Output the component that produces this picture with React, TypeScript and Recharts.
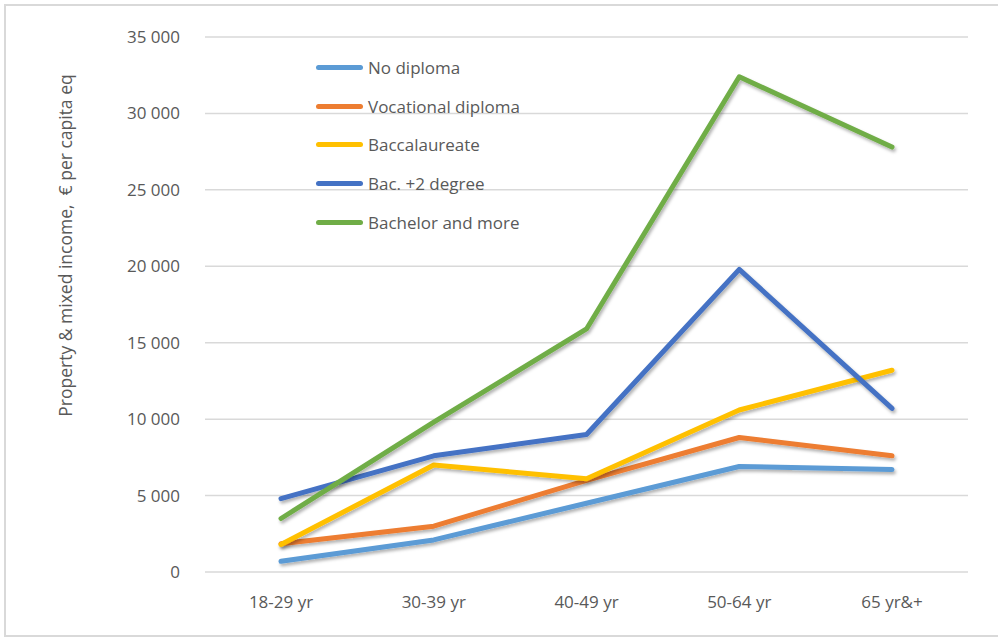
import React from 'react';
import { CartesianGrid, Line, LineChart, XAxis, YAxis } from 'recharts';

const AGES = ['18-29 yr', '30-39 yr', '40-49 yr', '50-64 yr', '65 yr&+'];
const NO_DIPLOMA = [700, 2100, 4500, 6900, 6700];
const VOCATIONAL = [1850, 3000, 6000, 8800, 7600];
const BACCALAUREATE = [1800, 7000, 6100, 10600, 13200];
const BAC_PLUS_2 = [4800, 7600, 9000, 19800, 10700];
const BACHELOR = [3500, 9800, 15900, 32400, 27800];
const Y_TICKS = [0, 5000, 10000, 15000, 20000, 25000, 30000, 35000];

const SERIES = [
  { key: 'noDiploma', name: 'No diploma', values: NO_DIPLOMA, color: '#5B9BD5' },
  { key: 'vocational', name: 'Vocational diploma', values: VOCATIONAL, color: '#ED7D31' },
  { key: 'bac', name: 'Baccalaureate', values: BACCALAUREATE, color: '#FFC000' },
  { key: 'bac2', name: 'Bac. +2 degree', values: BAC_PLUS_2, color: '#4472C4' },
  { key: 'bachelor', name: 'Bachelor and more', values: BACHELOR, color: '#70AD47' },
];

const data = AGES.map((age, i) => {
  const row: Record<string, any> = { age };
  SERIES.forEach((s) => (row[s.key] = s.values[i]));
  return row;
});

const FONT = '"Open Sans", sans-serif';
const GREY = '#595959';

const fmt = (v: number) => (v === 0 ? '0' : `${Math.floor(v / 1000)} ${String(v % 1000).padStart(3, '0')}`);

const LegendBox: React.FC = () => (
  <div style={{ position: 'absolute', left: 316, top: 48, fontFamily: FONT }}>
    {SERIES.map((s) => (
      <div key={s.key} style={{ display: 'flex', alignItems: 'center', height: 38.8 }}>
        <div style={{ width: 47, height: 5, borderRadius: 3, background: s.color, marginRight: 5 }} />
        <span style={{ fontSize: 17, color: GREY }}>{s.name}</span>
      </div>
    ))}
  </div>
);

export default function App() {
  return (
    <div style={{ position: 'absolute', left: 0, top: 0, width: 998, height: 637, overflow: 'hidden', background: '#fff' }}>
      <div
        style={{
          position: 'absolute',
          left: 4,
          top: 4,
          width: 1010,
          height: 629,
          border: '2px solid #D9D9D9',
        }}
      />
      <div style={{ position: 'absolute', left: 0, top: 0 }}>
        <LineChart width={998} height={637} data={data} margin={{ top: 37, right: 30, bottom: 0, left: 0 }}>
          <defs>
            <filter id="lineShadow" x="-10%" y="-10%" width="120%" height="130%">
              <feDropShadow dx="1.5" dy="2.5" stdDeviation="1.5" floodColor="#000" floodOpacity="0.3" />
            </filter>
          </defs>
          <CartesianGrid vertical={false} stroke="#D9D9D9" strokeWidth={1.5} />
          <XAxis
            dataKey="age"
            height={65}
            padding={{ left: 76, right: 76 }}
            axisLine={false}
            tickLine={false}
            tickMargin={18}
            tick={{ fill: GREY, fontSize: 17, fontFamily: FONT }}
          />
          <YAxis
            width={205}
            domain={[0, 35000]}
            ticks={Y_TICKS}
            interval={0}
            axisLine={false}
            tickLine={false}
            tickMargin={19}
            tickFormatter={fmt}
            tick={{ fill: GREY, fontSize: 17, fontFamily: FONT }}
            label={{
              value: 'Property & mixed income,\u00A0 € per capita eq',
              angle: -90,
              position: 'insideLeft',
              dx: 61,
              dy: -59,
              style: { fill: GREY, fontSize: 17.5, fontFamily: FONT, textAnchor: 'middle' },
            }}
          />
          {SERIES.map((s) => (
            <Line
              key={s.key}
              dataKey={s.key}
              name={s.name}
              stroke={s.color}
              strokeWidth={5}
              strokeLinejoin="round"
              strokeLinecap="round"
              dot={false}
              activeDot={false}
              filter="url(#lineShadow)"
              isAnimationActive={false}
            />
          ))}
        </LineChart>
      </div>
      <LegendBox />
    </div>
  );
}
